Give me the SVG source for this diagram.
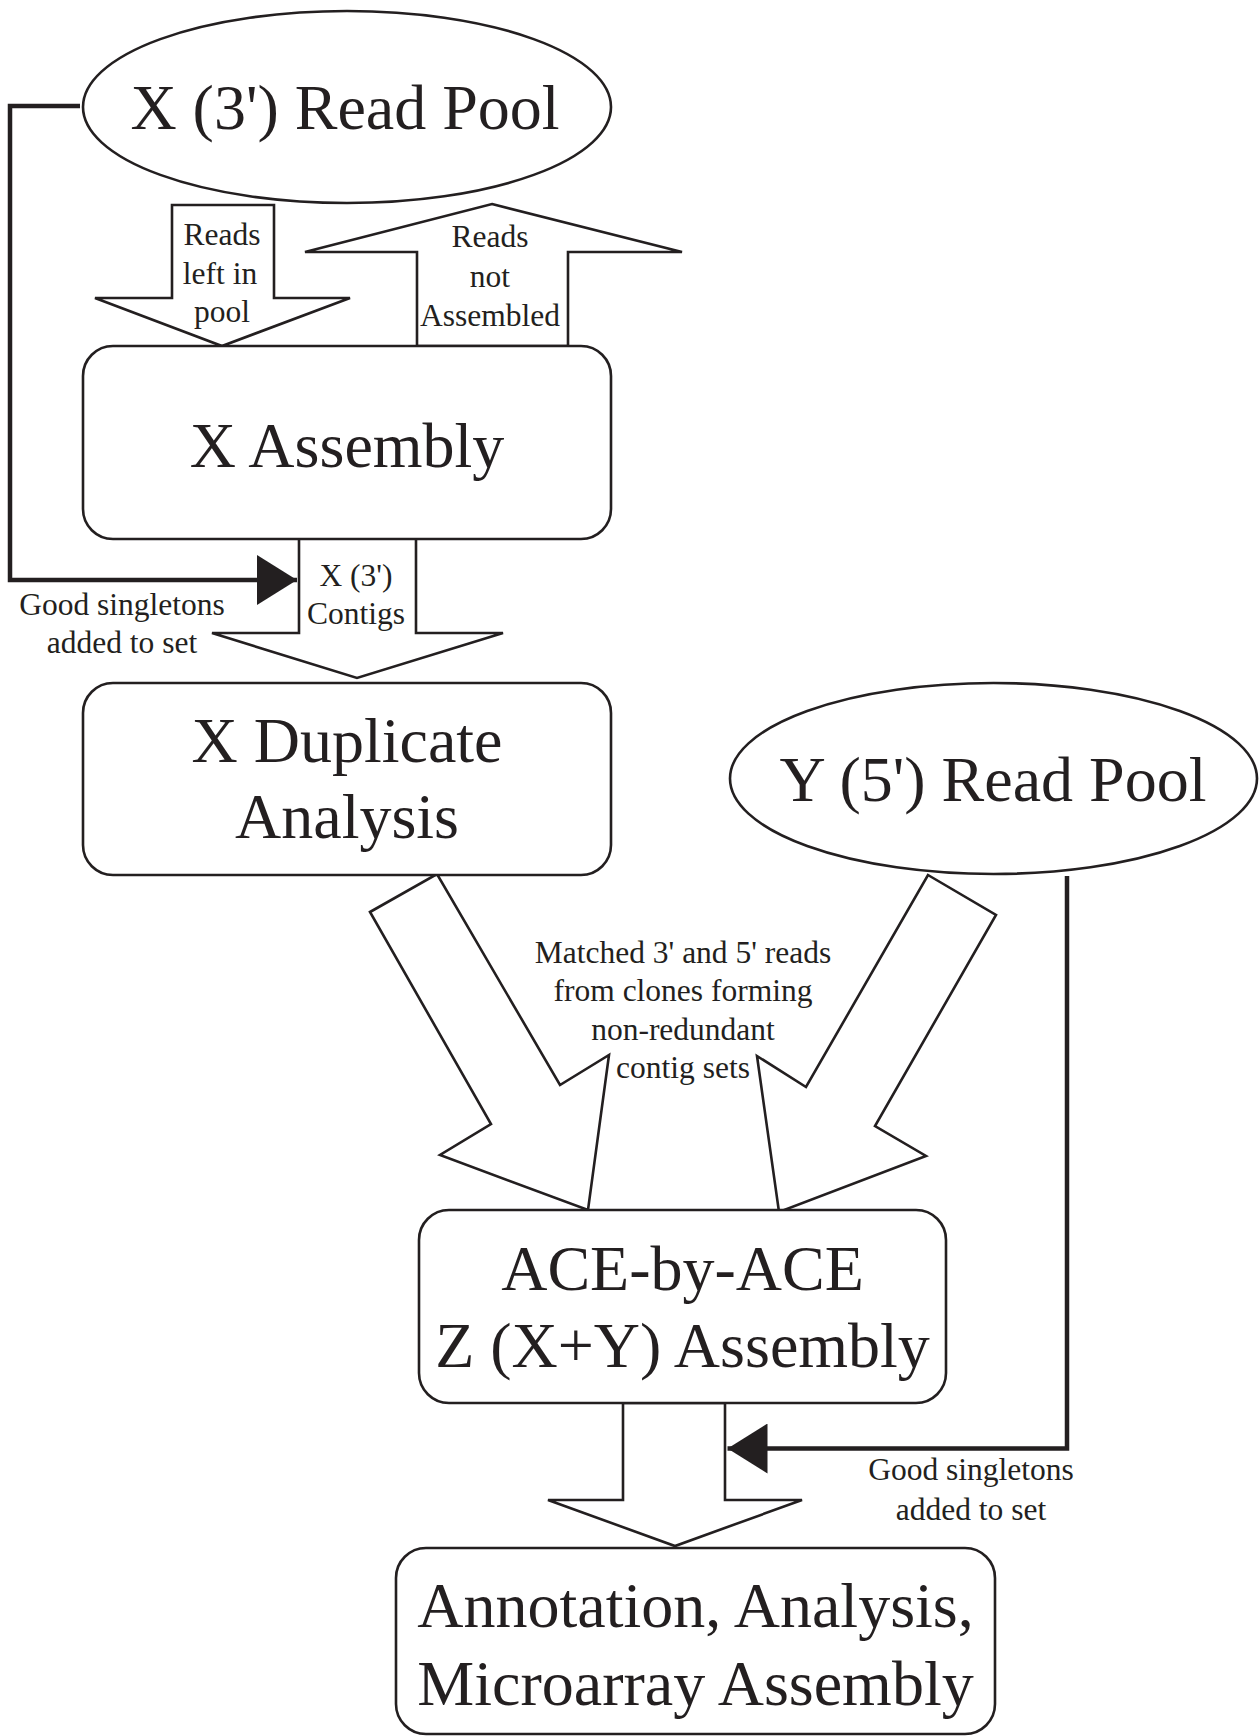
<svg xmlns="http://www.w3.org/2000/svg" width="1259" height="1736" viewBox="0 0 1259 1736">
<style>
text{font-family:"Liberation Serif","Times New Roman",serif;fill:#231f20;text-anchor:middle}
.big{font-size:64px}
.sm{font-size:31.5px}
.node{fill:#fff;stroke:#231f20;stroke-width:2.6}
.fat{fill:#fff;stroke:#231f20;stroke-width:2.6;stroke-linejoin:miter}
.thick{fill:none;stroke:#231f20;stroke-width:4.5;marker-end:url(#tri)}
</style>
<defs>
<marker id="tri" viewBox="0 0 40 50" refX="40" refY="25" markerWidth="40" markerHeight="50" markerUnits="userSpaceOnUse" orient="auto">
<path d="M0,0 L40,25 L0,50 z" fill="#231f20"/>
</marker>
</defs>
<rect width="1259" height="1736" fill="#fff"/>

<g id="connectors">
<polygon class="fat" points="172,205 274,205 274,298 350,298 222,346 95,298 172,298"/>
<text class="sm" x="222" y="245">Reads</text>
<text class="sm" x="220" y="284">left in</text>
<text class="sm" x="222" y="322">pool</text>

<polygon class="fat" points="492,204 682,252 568,252 568,346 417,346 417,252 305,252"/>
<text class="sm" x="490" y="247">Reads</text>
<text class="sm" x="490" y="287">not</text>
<text class="sm" x="490" y="326">Assembled</text>

<polygon class="fat" points="299,538 416,538 416,633 503,633 357,678 212,633 299,633"/>
<text class="sm" x="356" y="586">X (3')</text>
<text class="sm" x="356" y="624">Contigs</text>

<path class="thick" d="M80,106 H10 V580 H297"/>
<text class="sm" x="122" y="615">Good singletons</text>
<text class="sm" x="122" y="653">added to set</text>

<polygon class="fat" points="370,912 437,874 560,1085 609,1055 588,1210 440,1155 491,1124"/>
<polygon class="fat" points="928,875 996,915 875,1126 926,1156 779,1212 757,1056 806,1087"/>
<text class="sm" x="683" y="963">Matched 3' and 5' reads</text>
<text class="sm" x="683" y="1001">from clones forming</text>
<text class="sm" x="683" y="1040">non-redundant</text>
<text class="sm" x="683" y="1078">contig sets</text>

<polygon class="fat" points="623,1403 725,1403 725,1500 802,1500 675,1546 548,1500 623,1500"/>
<path class="thick" d="M1067,876 V1448.5 H727.5"/>
<text class="sm" x="971" y="1480">Good singletons</text>
<text class="sm" x="971" y="1520">added to set</text>
</g>

<g id="x-read-pool">
<ellipse class="node" cx="347" cy="107" rx="264" ry="96"/>
<text class="big" x="345" y="129">X (3') Read Pool</text>
</g>

<g id="x-assembly">
<rect class="node" x="83" y="346" width="528" height="193" rx="30"/>
<text class="big" x="347" y="467">X Assembly</text>
</g>

<g id="x-duplicate-analysis">
<rect class="node" x="83" y="683" width="528" height="192" rx="30"/>
<text class="big" x="347" y="762">X Duplicate</text>
<text class="big" x="347" y="838">Analysis</text>
</g>

<g id="y-read-pool">
<ellipse class="node" cx="993.5" cy="778.5" rx="263.5" ry="95.5"/>
<text class="big" x="993" y="801">Y (5') Read Pool</text>
</g>

<g id="z-assembly">
<rect class="node" x="419" y="1210" width="527" height="193" rx="30"/>
<text class="big" x="682.5" y="1290">ACE-by-ACE</text>
<text class="big" x="682.5" y="1367">Z (X+Y) Assembly</text>
</g>

<g id="annotation">
<rect class="node" x="396" y="1548" width="599" height="186" rx="30"/>
<text class="big" x="695.5" y="1627">Annotation, Analysis,</text>
<text class="big" x="695.5" y="1705">Microarray Assembly</text>
</g>
</svg>
